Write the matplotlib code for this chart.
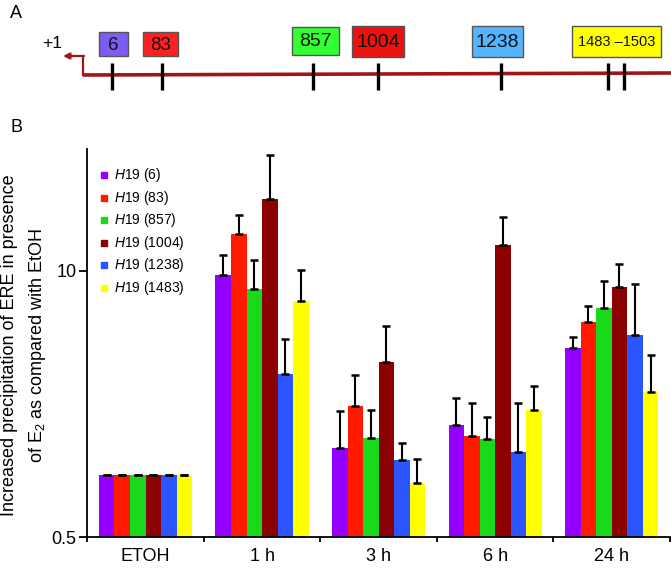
import matplotlib
matplotlib.use("Agg")
import matplotlib.pyplot as plt
import numpy as np
from matplotlib.patches import Rectangle

plt.rcParams['font.family'] = ['Liberation Sans', 'DejaVu Sans']
plt.rcParams['mathtext.fontset'] = 'custom'
plt.rcParams['mathtext.rm'] = 'Liberation Sans'
plt.rcParams['mathtext.it'] = 'Liberation Sans:italic'

# ---------------- data ----------------
categories = ['ETOH', '1 h', '3 h', '6 h', '24 h']
series_names = ['6', '83', '857', '1004', '1238', '1483']
series_colors = ['#9400FF', '#FF1A00', '#1AD81A', '#8B0000', '#2B55FF', '#FFFF00']

vals_6 = [1.0, 9.57, 1.36, 1.77, 4.19]
vals_83 = [1.0, 15.1, 2.19, 1.56, 5.61]
vals_857 = [1.0, 8.15, 1.53, 1.51, 6.62]
vals_1004 = [1.0, 22.4, 3.58, 13.4, 8.36]
vals_1238 = [1.0, 3.14, 1.19, 1.30, 4.86]
vals_1483 = [1.0, 7.16, 0.92, 2.09, 2.56]

errtop_6 = [1.0, 12.0, 2.07, 2.38, 4.74]
errtop_83 = [1.0, 18.8, 3.10, 2.25, 6.75]
errtop_857 = [1.0, 11.3, 2.09, 1.93, 8.91]
errtop_1004 = [1.0, 37.0, 5.40, 18.3, 10.8]
errtop_1238 = [1.0, 4.67, 1.44, 2.25, 8.67]
errtop_1483 = [1.0, 10.1, 1.20, 2.75, 3.87]

values = [vals_6, vals_83, vals_857, vals_1004, vals_1238, vals_1483]
err_tops = [errtop_6, errtop_83, errtop_857, errtop_1004, errtop_1238, errtop_1483]

# panel A schematic
site_labels = ['6', '83', '857', '1004', '1238', '1483 \u20131503']
site_box_colors = ['#7D5CF5', '#FF2020', '#33FF33', '#EE1111', '#55B4FF', '#FFFF00']

# ---------------- figure ----------------
W, H = 671, 570
fig = plt.figure(figsize=(W / 100, H / 100), dpi=100)

# schematic layer in pixel coordinates
ax0 = fig.add_axes([0, 0, 1, 1])
ax0.set_xlim(0, W)
ax0.set_ylim(H, 0)
ax0.axis('off')

line_col = '#A31515'
ax0.plot([83, 671], [75, 73], color=line_col, lw=2.6, solid_capstyle='butt')
ax0.plot([83, 83], [75, 56], color=line_col, lw=1.6)
ax0.annotate('', xy=(63, 56), xytext=(84, 56),
             arrowprops=dict(arrowstyle='-|>', color=line_col, lw=1.6,
                             mutation_scale=9, shrinkA=0, shrinkB=0))
ax0.text(52, 44, '+1', fontsize=12.5, ha='center', va='center')

tick_px = [112, 162, 313, 378, 501, 608, 624]
for tx in tick_px:
    ax0.plot([tx, tx], [63, 90], color='black', lw=2.4, solid_capstyle='butt')

boxes_px = [(99, 32, 29, 24), (143, 32, 35, 24), (292, 27, 47, 28),
            (352, 26, 52, 31), (472, 26, 51, 31), (572, 26, 89, 31)]
box_fs = [13.5, 13.5, 14, 14, 14, 10.5]
for (bx, by, bw, bh), lab, col, fs in zip(boxes_px, site_labels, site_box_colors, box_fs):
    ax0.add_patch(Rectangle((bx, by), bw, bh, facecolor=col, edgecolor='#555555', lw=1))
    ax0.text(bx + bw / 2, by + bh / 2 + 1, lab, fontsize=fs, ha='center', va='center',
             color='#111111')

ax0.text(10, 13, 'A', fontsize=13, ha='left', va='center')
ax0.text(10, 128, 'B', fontsize=13, ha='left', va='center')

# ---------------- bar chart ----------------
left, right, bottom, top = 87.3, 670, 537, 149
ax = fig.add_axes([left / W, (H - bottom) / H, (right - left) / W, (bottom - top) / H])
ax.set_facecolor('none')
ax.set_yscale('log')
ax.set_ylim(0.5, 39.5)
ax.set_xlim(-0.5, len(categories) - 0.5)

n = len(values)
bw = 0.8 / n
x = np.arange(len(categories))
for i, (v, et, col) in enumerate(zip(values, err_tops, series_colors)):
    xi = x - 0.4 + bw * (i + 0.5)
    ax.bar(xi, v, width=bw, color=col, edgecolor='none', zorder=2)
    up = np.array(et) - np.array(v)
    ax.errorbar(xi, v, yerr=[np.zeros_like(up), up], fmt='none', ecolor='black',
                elinewidth=1.5, capsize=2.6, capthick=1.8, zorder=3)

for s in ['top', 'right']:
    ax.spines[s].set_visible(False)
for s in ['left', 'bottom']:
    ax.spines[s].set_linewidth(1.3)

ax.yaxis.set_minor_locator(matplotlib.ticker.NullLocator())
ax.set_yticks([0.5, 10])
ax.set_yticklabels(['0.5', '10'])
ax.tick_params(axis='y', which='major', length=5.8, width=1.3, pad=2, labelsize=13)

ax.set_xticks(np.arange(len(categories) + 1) - 0.5)
ax.set_xticklabels([])
ax.set_xticks(x, minor=True)
ax.set_xticklabels(categories, minor=True)
ax.tick_params(axis='x', which='major', length=3.5, width=1.3)
ax.tick_params(axis='x', which='minor', length=0, pad=8, labelsize=13)

# legend
for i, (name, col) in enumerate(zip(series_names, series_colors)):
    yy = 175 + i * 22.6
    fx = 103.5
    ax0.plot([fx], [yy], marker='s', markersize=5, color=col, linestyle='none')
    ax0.text(114, yy, r'$\mathit{H19}$ (' + name + ')', fontsize=10, ha='left', va='center')

fig.text(24.5 / W, (H - 345) / H,
         'Increased precipitation of ERE in presence\nof E$_2$ as compared with EtOH',
         rotation=90, ha='center', va='center', fontsize=13, linespacing=1.55,
         multialignment='center')

fig.savefig('out.png', dpi=100)
